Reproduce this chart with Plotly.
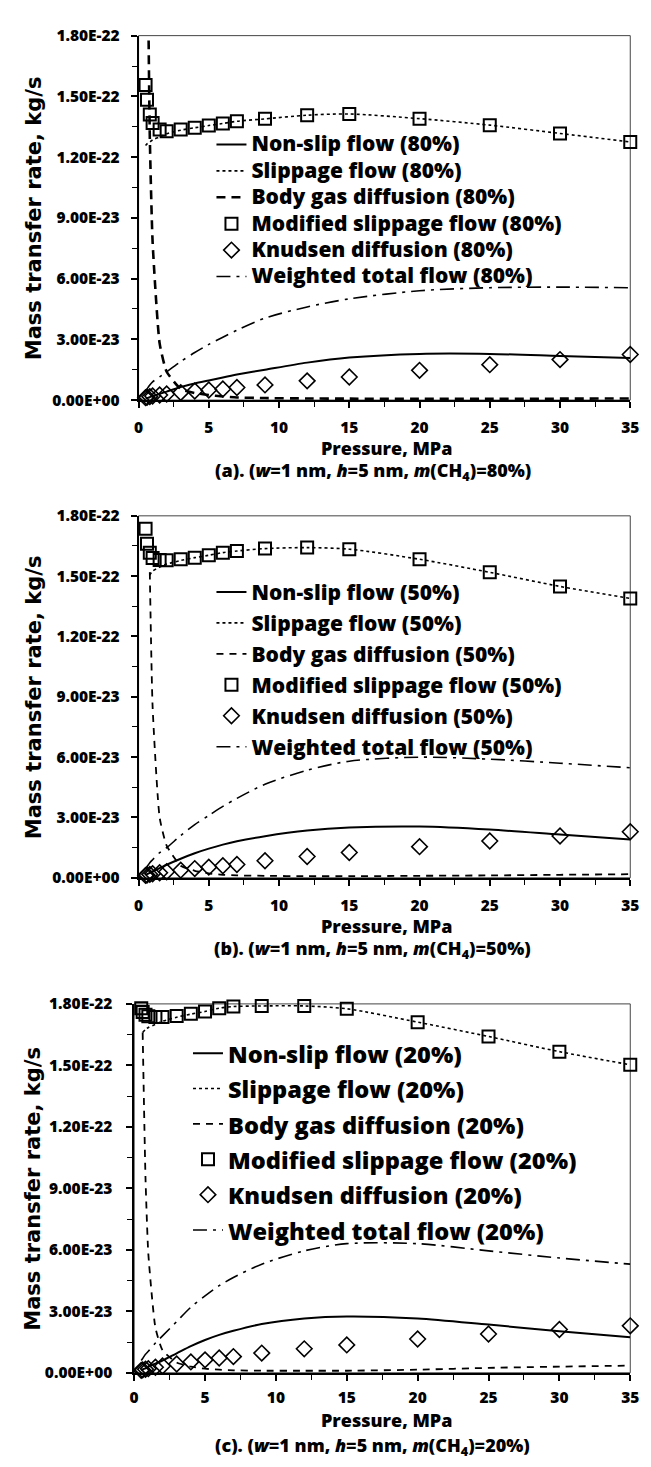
import plotly.graph_objects as go

# ---------------- data (values in units of 1E-23 kg/s) ----------------
pressure = [0.5, 0.6, 0.8, 1, 1.5, 2, 3, 4, 5, 6, 7, 9, 12, 15, 20, 25, 30, 35]

a_nonslip = [0.08, 0.10, 0.14, 0.20, 0.30, 0.42, 0.65, 0.82, 0.97, 1.12, 1.26, 1.50, 1.85, 2.10, 2.28, 2.28, 2.18, 2.08]
a_slip = [12.57, 12.65, 12.75, 12.85, 13.00, 13.15, 13.33, 13.45, 13.56, 13.66, 13.77, 13.89, 14.07, 14.13, 13.90, 13.58, 13.17, 12.75]
a_body = [40.0, 26.0, 13.0, 7.8, 2.8, 1.4, 0.55, 0.35, 0.25, 0.18, 0.13, 0.10, 0.08, 0.07, 0.06, 0.06, 0.07, 0.08]
a_mod = [15.56, 14.83, 14.10, 13.69, 13.37, 13.28, 13.37, 13.45, 13.56, 13.66, 13.77, 13.89, 14.07, 14.13, 13.90, 13.58, 13.17, 12.75]
a_knud = [0.12, 0.14, 0.17, 0.20, 0.25, 0.30, 0.37, 0.45, 0.50, 0.55, 0.62, 0.75, 0.95, 1.14, 1.47, 1.75, 2.00, 2.25]
a_total = [0.45, 0.55, 0.75, 0.90, 1.15, 1.40, 1.90, 2.35, 2.75, 3.10, 3.45, 4.05, 4.60, 5.00, 5.40, 5.55, 5.58, 5.55]

b_nonslip = [0.15, 0.18, 0.25, 0.32, 0.48, 0.65, 0.95, 1.22, 1.45, 1.65, 1.82, 2.07, 2.35, 2.50, 2.55, 2.40, 2.15, 1.90]
b_slip = [None, None, 15.05, 15.25, 15.45, 15.60, 15.78, 15.92, 16.04, 16.17, 16.25, 16.37, 16.42, 16.34, 15.84, 15.19, 14.49, 13.89]
b_body = [None, None, 15.2, 8.5, 3.0, 1.6, 0.6, 0.35, 0.22, 0.15, 0.12, 0.10, 0.08, 0.08, 0.10, 0.12, 0.15, 0.18]
b_mod = [17.36, 16.61, 16.17, 15.90, 15.80, 15.79, 15.84, 15.92, 16.04, 16.17, 16.25, 16.37, 16.42, 16.34, 15.84, 15.19, 14.49, 13.89]
b_knud = [0.12, 0.14, 0.17, 0.20, 0.25, 0.30, 0.38, 0.46, 0.53, 0.60, 0.66, 0.85, 1.06, 1.26, 1.55, 1.83, 2.08, 2.29]
b_total = [0.45, 0.55, 0.75, 0.90, 1.25, 1.50, 2.10, 2.65, 3.10, 3.55, 3.95, 4.65, 5.35, 5.80, 6.00, 5.90, 5.70, 5.47]

c_nonslip = [0.12, 0.16, 0.22, 0.30, 0.45, 0.60, 0.95, 1.30, 1.60, 1.85, 2.05, 2.38, 2.65, 2.75, 2.65, 2.35, 2.03, 1.73]
c_slip = [None, 16.6, 16.75, 16.85, 17.00, 17.15, 17.35, 17.50, 17.63, 17.79, 17.87, 17.90, 17.90, 17.76, 17.11, 16.41, 15.67, 15.03]
c_body = [None, 16.6, 9.5, 5.8, 2.2, 1.1, 0.5, 0.3, 0.2, 0.15, 0.12, 0.10, 0.10, 0.10, 0.15, 0.24, 0.30, 0.35]
c_mod = [17.79, 17.60, 17.47, 17.40, 17.36, 17.36, 17.41, 17.52, 17.63, 17.79, 17.87, 17.90, 17.90, 17.76, 17.11, 16.41, 15.67, 15.03]
c_knud = [0.12, 0.14, 0.17, 0.20, 0.27, 0.33, 0.43, 0.53, 0.63, 0.72, 0.79, 0.96, 1.17, 1.36, 1.65, 1.89, 2.11, 2.29]
c_total = [0.60, 0.70, 0.90, 1.05, 1.45, 1.80, 2.50, 3.20, 3.75, 4.25, 4.65, 5.30, 5.95, 6.30, 6.30, 5.95, 5.60, 5.30]

percent = ["80%", "50%", "20%"]
panel_tags = ["(a)", "(b)", "(c)"]
y_tickvals = [0, 3e-23, 6e-23, 9e-23, 1.2e-22, 1.5e-22, 1.8e-22]
y_ticktext = ["0.00E+00", "3.00E-23", "6.00E-23", "9.00E-23", "1.20E-22", "1.50E-22", "1.80E-22"]
x_tickvals = [0, 5, 10, 15, 20, 25, 30, 35]

panels = [
    (a_nonslip, a_slip, a_body, a_mod, a_knud, a_total),
    (b_nonslip, b_slip, b_body, b_mod, b_knud, b_total),
    (c_nonslip, c_slip, c_body, c_mod, c_knud, c_total),
]

# ---------------- layout geometry (pixels) ----------------
W, H = 651, 1467
plot_px = [  # left, right, top, bottom
    (136.5, 639, 24, 394),
    (136.5, 639, 511.5, 879),
    (132, 639, 1007, 1381.5),
]
legend_px = [  # left, top, nominal size (row pitch), text size
    (211, 116, 18, 21),
    (211, 568, 21.5, 21),
    (187, 1034, 24.9, 23.6),
]
xstandoff = [7, 7, 4]
xtitle_y = [443, 928, 1429]
caption_y = [467, 952, 1456]

FONT = "Open Sans"
W8 = 800

def scale(v):
    return [None if x is None else x * 1e-23 for x in v]

fig = go.Figure()
layout = dict(
    width=W, height=H, margin=dict(l=0, r=0, t=0, b=0),
    paper_bgcolor="white", plot_bgcolor="white", showlegend=True,
    annotations=[], shapes=[],
)

for i, data in enumerate(panels):
    n = "" if i == 0 else str(i + 1)
    xa, ya = "x" + n, "y" + n
    lg = "legend" + n
    nonslip, slip, body, mod, knud, total = data
    pc = percent[i]
    lx, ly, nom, ts = legend_px[i]
    bw = 2.6 if i == 0 else 1.8

    def lab(s):
        return f'<span style="font-size:{ts}px">{s} ({pc})</span>'

    traces = [
        dict(y=nonslip, name=lab("Non-slip flow"), mode="lines",
             line=dict(color="black", width=2, shape="spline", smoothing=0.8)),
        dict(y=slip, name=lab("Slippage flow"), mode="lines",
             line=dict(color="black", width=1.6, dash="dot", shape="spline", smoothing=0.8)),
        dict(y=body, name=lab("Body gas diffusion"), mode="lines",
             line=dict(color="black", width=bw, dash="9px,6px" if i == 0 else "7px,6px",
                       shape="spline", smoothing=0.5)),
        dict(y=mod, name=lab("Modified slippage flow"), mode="markers",
             marker=dict(symbol="square-open", size=12, color="black", line=dict(width=2))),
        dict(y=knud, name=lab("Knudsen diffusion"), mode="markers",
             marker=dict(symbol="diamond-open", size=12, color="black", line=dict(width=1.6))),
        dict(y=total, name=lab("Weighted total flow"), mode="lines",
             line=dict(color="black", width=1.6, dash="14px,6px,3px,6px", shape="spline", smoothing=0.8)),
    ]
    for k, t in enumerate(traces):
        y = t.pop("y")
        fig.add_trace(go.Scatter(x=pressure, y=scale(y), xaxis=xa, yaxis=ya, legend=lg,
                                 connectgaps=False, cliponaxis=(t["mode"] == "lines"), **t))

    l, r, tp, bt = plot_px[i]
    xdom = [l / W, r / W]
    ydom = [1 - bt / H, 1 - tp / H]
    tickfont = dict(family=FONT, size=15.5, color="black", weight=W8)
    layout["xaxis" + n] = dict(
        domain=xdom, anchor=ya, range=[0, 35], tickvals=x_tickvals, ticks="outside",
        ticklen=6, tickwidth=1.5, tickcolor="black", showline=True, linewidth=1.5,
        linecolor="black", showgrid=False, zeroline=False, tickfont=tickfont,
        ticklabelstandoff=xstandoff[i],
        minor=dict(tickvals=[2.5, 7.5, 12.5, 17.5, 22.5, 27.5, 32.5], ticks="outside",
                   ticklen=5, tickwidth=1.2, tickcolor="black"),
    )
    layout["yaxis" + n] = dict(
        domain=ydom, anchor=xa, range=[0, 1.8e-22], tickvals=y_tickvals, ticktext=y_ticktext,
        ticks="outside", ticklen=6, tickwidth=1.5, tickcolor="black", showline=True,
        linewidth=1.5, linecolor="black", showgrid=False, zeroline=False, tickfont=tickfont,
        ticklabelstandoff=8 if i < 2 else 11,
        minor=dict(tickvals=[1.5e-23, 4.5e-23, 7.5e-23, 1.05e-22, 1.35e-22, 1.65e-22],
                   ticks="outside", ticklen=5, tickwidth=1.2, tickcolor="black"),
    )
    # inside halves of the crossing major ticks
    m = str(i + 4)
    layout["xaxis" + m] = dict(
        domain=xdom, anchor=ya, overlaying=xa, range=[0, 35], tickvals=x_tickvals,
        ticks="inside", ticklen=6, tickwidth=1.5, tickcolor="black", showticklabels=False,
        showline=False, showgrid=False, zeroline=False,
    )
    layout["yaxis" + m] = dict(
        domain=ydom, anchor=xa, overlaying=ya, range=[0, 1.8e-22], tickvals=y_tickvals,
        ticks="inside", ticklen=6, tickwidth=1.5, tickcolor="black", showticklabels=False,
        showline=False, showgrid=False, zeroline=False,
    )
    # thin frame (top / right)
    layout["shapes"].append(dict(type="rect", xref="paper", yref="paper", x0=xdom[0], x1=xdom[1],
                                 y0=ydom[0], y1=ydom[1], line=dict(color="#444", width=1),
                                 layer="below"))
    # legend
    layout[lg] = dict(x=lx / W, y=1 - ly / H, xanchor="left", yanchor="top",
                      bgcolor="rgba(0,0,0,0)", borderwidth=0, itemwidth=30,
                      font=dict(family=FONT, size=nom, color="black", weight=W8))
    # axis titles and caption
    layout["annotations"].append(dict(
        text="Pressure, MPa", x=390 / W, y=1 - xtitle_y[i] / H, xref="paper", yref="paper",
        showarrow=False, xanchor="center", yanchor="middle",
        font=dict(family=FONT, size=18, color="black", weight=W8)))
    layout["annotations"].append(dict(
        text=f"{panel_tags[i]}. (<i>w</i>=1 nm, <i>h</i>=5 nm, <i>m</i>(CH<sub>4</sub>)={pc})",
        x=376 / W, y=1 - caption_y[i] / H, xref="paper", yref="paper",
        showarrow=False, xanchor="center", yanchor="middle",
        font=dict(family=FONT, size=18, color="black", weight=W8)))
    layout["annotations"].append(dict(
        text="Mass transfer rate, kg/s", x=29 / W, y=1 - (tp + bt) / 2 / H,
        xref="paper", yref="paper", showarrow=False, textangle=-90,
        xanchor="center", yanchor="middle",
        font=dict(family="DejaVu Sans", size=21, color="black", weight="bold")))

fig.update_layout(**layout)
fig.write_html("out.html")
